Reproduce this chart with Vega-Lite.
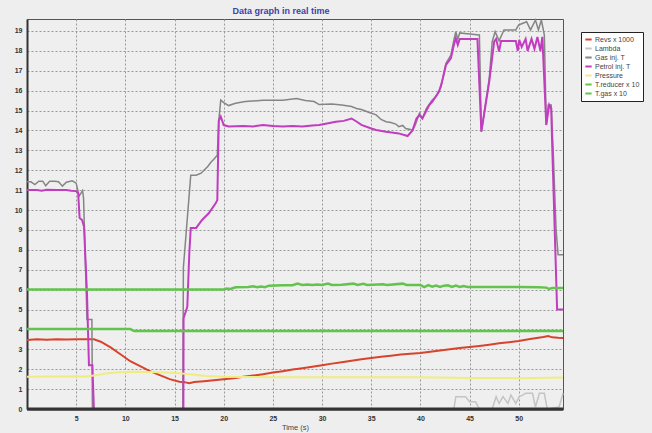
{
  "$schema": "https://vega.github.io/schema/vega-lite/v6.json",
  "width": 536,
  "height": 390,
  "autosize": {"type": "none"},
  "padding": {"left": 27, "top": 19, "right": 89, "bottom": 24},
  "background": "#eeeeee",
  "config": {
    "view": {"stroke": "#555555", "strokeWidth": 1, "fill": "#efefef"},
    "font": "Liberation Sans",
    "axis": {
      "domainColor": "#333333", "domainWidth": 2, "ticks": false,
      "gridColor": "#999999", "gridDash": [2, 2], "gridWidth": 1,
      "labelFont": "Liberation Sans", "labelFontSize": 7, "labelFontWeight": "bold", "labelColor": "#333333",
      "titleFont": "Liberation Sans", "titleFontSize": 7.5, "titleFontWeight": "normal", "titleColor": "#444444"
    }
  },
  "title": {"text": "Data graph in real time", "font": "Liberation Sans", "fontSize": 9, "fontWeight": "bold", "color": "#3f3fa8", "offset": 1, "dx": -14},
  "encoding": {
    "x": {"field": "t", "type": "quantitative", "title": "Time (s)",
      "scale": {"domain": [0, 54.5], "nice": false, "zero": false},
      "axis": {"values": [5, 10, 15, 20, 25, 30, 35, 40, 45, 50], "labelPadding": 5, "titlePadding": 2}},
    "y": {"field": "v", "type": "quantitative", "title": null,
      "scale": {"domain": [0, 19.6], "nice": false},
      "axis": {"values": [0, 1, 2, 3, 4, 5, 6, 7, 8, 9, 10, 11, 12, 13, 14, 15, 16, 17, 18, 19], "labelPadding": 5}}
  },
  "layer": [
    {
      "data": {"values": [
        {"t": 0, "v": 3.47}, {"t": 1, "v": 3.5}, {"t": 2, "v": 3.48}, {"t": 3, "v": 3.5}, {"t": 4, "v": 3.49}, {"t": 5, "v": 3.5}, {"t": 6, "v": 3.5}, {"t": 6.8, "v": 3.5},
        {"t": 7.5, "v": 3.38}, {"t": 8.5, "v": 3.1}, {"t": 9.5, "v": 2.75}, {"t": 10.5, "v": 2.4}, {"t": 11.5, "v": 2.15}, {"t": 12.5, "v": 1.9}, {"t": 13.5, "v": 1.7},
        {"t": 14.5, "v": 1.5}, {"t": 15.5, "v": 1.37}, {"t": 16, "v": 1.35}, {"t": 16.5, "v": 1.3}, {"t": 17, "v": 1.36}, {"t": 18, "v": 1.4}, {"t": 19, "v": 1.45},
        {"t": 20, "v": 1.5}, {"t": 21, "v": 1.55}, {"t": 22, "v": 1.62}, {"t": 23, "v": 1.68}, {"t": 24, "v": 1.75}, {"t": 25, "v": 1.83}, {"t": 26, "v": 1.9},
        {"t": 27, "v": 1.98}, {"t": 28, "v": 2.05}, {"t": 29, "v": 2.12}, {"t": 30, "v": 2.2}, {"t": 31, "v": 2.28}, {"t": 32, "v": 2.35}, {"t": 33, "v": 2.42},
        {"t": 34, "v": 2.5}, {"t": 35, "v": 2.56}, {"t": 36, "v": 2.62}, {"t": 37, "v": 2.68}, {"t": 38, "v": 2.74}, {"t": 39, "v": 2.78}, {"t": 40, "v": 2.81},
        {"t": 41, "v": 2.88}, {"t": 42, "v": 2.94}, {"t": 43, "v": 3.0}, {"t": 44, "v": 3.06}, {"t": 45, "v": 3.12}, {"t": 46, "v": 3.17}, {"t": 47, "v": 3.23},
        {"t": 48, "v": 3.3}, {"t": 49, "v": 3.36}, {"t": 50, "v": 3.42}, {"t": 51, "v": 3.5}, {"t": 52, "v": 3.58}, {"t": 52.5, "v": 3.62}, {"t": 53, "v": 3.67},
        {"t": 53.4, "v": 3.6}, {"t": 54, "v": 3.58}, {"t": 54.5, "v": 3.57}
      ]},
      "mark": {"type": "line", "strokeWidth": 2},
      "encoding": {"color": {"datum": "Revs x 1000", "type": "nominal",
        "scale": {"domain": ["Revs x 1000", "Lambda", "Gas inj. T", "Petrol inj. T", "Pressure", "T.reducer x 10", "T.gas x 10"],
                  "range": ["#d8432c", "#c4c4c4", "#858585", "#c23cc0", "#f0ec80", "#62c44c", "#62c44c"]},
        "legend": {"orient": "none", "legendX": 554, "legendY": 13, "title": null, "fillColor": "#ffffff", "strokeColor": "#222222",
                   "padding": 3, "labelFont": "Liberation Sans", "labelFontSize": 7, "labelColor": "#444444", "symbolType": "stroke",
                   "symbolSize": 40, "symbolStrokeWidth": 2, "rowPadding": 0, "labelOffset": 2}}}
    },
    {
      "data": {"values": [
        {"t": 0, "v": 0}, {"t": 43.4, "v": 0}, {"t": 43.6, "v": 0.62}, {"t": 44.6, "v": 0.62}, {"t": 45.0, "v": 0.37}, {"t": 45.6, "v": 0.37}, {"t": 46.0, "v": 0},
        {"t": 47.3, "v": 0}, {"t": 47.7, "v": 0.62}, {"t": 48.0, "v": 0.28}, {"t": 48.4, "v": 0.62}, {"t": 48.9, "v": 0.28}, {"t": 49.2, "v": 0.7}, {"t": 49.7, "v": 0.28},
        {"t": 50.05, "v": 0.62}, {"t": 50.4, "v": 0.7}, {"t": 50.7, "v": 0.79}, {"t": 51.4, "v": 0.79}, {"t": 51.7, "v": 0.1}, {"t": 52.1, "v": 0.79}, {"t": 52.6, "v": 0.79},
        {"t": 52.9, "v": 0}, {"t": 54.1, "v": 0.1}, {"t": 54.5, "v": 0.79}
      ]},
      "mark": {"type": "line", "strokeWidth": 1.5},
      "encoding": {"color": {"datum": "Lambda", "type": "nominal"}}
    },
    {
      "data": {"values": [
        {"t": 0, "v": 11.42}, {"t": 0.4, "v": 11.42}, {"t": 0.8, "v": 11.28}, {"t": 1.2, "v": 11.45}, {"t": 1.6, "v": 11.45}, {"t": 1.9, "v": 11.22}, {"t": 2.3, "v": 11.45},
        {"t": 2.8, "v": 11.45}, {"t": 3.2, "v": 11.42}, {"t": 3.6, "v": 11.2}, {"t": 4.0, "v": 11.4}, {"t": 4.6, "v": 11.47}, {"t": 5.0, "v": 11.35}, {"t": 5.3, "v": 10.7},
        {"t": 5.65, "v": 10.97}, {"t": 5.75, "v": 10.6}, {"t": 6.1, "v": 4.5}, {"t": 6.6, "v": 4.5}, {"t": 6.65, "v": 0}, {"t": 15.85, "v": 0}, {"t": 15.9, "v": 7.1},
        {"t": 16.65, "v": 11.75}, {"t": 17.2, "v": 11.75}, {"t": 17.7, "v": 11.85}, {"t": 18.0, "v": 12.0}, {"t": 18.4, "v": 12.2}, {"t": 18.7, "v": 12.4}, {"t": 19.0, "v": 12.55},
        {"t": 19.35, "v": 12.75}, {"t": 19.5, "v": 14.5}, {"t": 19.7, "v": 15.53}, {"t": 20.0, "v": 15.4}, {"t": 20.5, "v": 15.25}, {"t": 21.2, "v": 15.37}, {"t": 22.2, "v": 15.45},
        {"t": 24, "v": 15.52}, {"t": 26, "v": 15.52}, {"t": 27.4, "v": 15.6}, {"t": 28.3, "v": 15.5}, {"t": 29.2, "v": 15.45}, {"t": 29.7, "v": 15.3}, {"t": 31, "v": 15.33},
        {"t": 32, "v": 15.28}, {"t": 33, "v": 15.2}, {"t": 33.5, "v": 15.1}, {"t": 34, "v": 15.05}, {"t": 34.8, "v": 14.9}, {"t": 35.5, "v": 14.78}, {"t": 36, "v": 14.55},
        {"t": 36.5, "v": 14.44}, {"t": 37, "v": 14.4}, {"t": 37.5, "v": 14.32}, {"t": 37.8, "v": 14.19}, {"t": 38.2, "v": 14.25}, {"t": 38.5, "v": 14.1}, {"t": 39, "v": 14.05},
        {"t": 39.2, "v": 14.0}, {"t": 39.5, "v": 14.3}, {"t": 39.9, "v": 14.86}, {"t": 40.2, "v": 14.6}, {"t": 40.6, "v": 15.1}, {"t": 41.2, "v": 15.53}, {"t": 41.6, "v": 15.7},
        {"t": 42.1, "v": 16.2}, {"t": 42.6, "v": 17.37}, {"t": 43.1, "v": 17.79}, {"t": 43.4, "v": 18.54}, {"t": 43.6, "v": 18.96}, {"t": 43.8, "v": 18.6}, {"t": 44.0, "v": 18.9},
        {"t": 45.0, "v": 18.85}, {"t": 46.0, "v": 18.8}, {"t": 46.2, "v": 13.94}, {"t": 47.0, "v": 16.6}, {"t": 47.3, "v": 18.46}, {"t": 47.6, "v": 18.96}, {"t": 48.0, "v": 18.5},
        {"t": 48.5, "v": 19.05}, {"t": 49.7, "v": 19.05}, {"t": 50.0, "v": 19.3}, {"t": 50.8, "v": 19.46}, {"t": 51.2, "v": 19.05}, {"t": 51.7, "v": 19.55}, {"t": 52.0, "v": 19.05},
        {"t": 52.3, "v": 19.55}, {"t": 52.6, "v": 18.8}, {"t": 52.8, "v": 14.3}, {"t": 53.0, "v": 15.28}, {"t": 53.3, "v": 15.28}, {"t": 53.5, "v": 13.0}, {"t": 53.8, "v": 9.0},
        {"t": 54.0, "v": 7.75}, {"t": 54.5, "v": 7.75}
      ]},
      "mark": {"type": "line", "strokeWidth": 1.5},
      "encoding": {"color": {"datum": "Gas inj. T", "type": "nominal"}}
    },
    {
      "data": {"values": [
        {"t": 0, "v": 11.0}, {"t": 1, "v": 11.0}, {"t": 1.5, "v": 10.97}, {"t": 2, "v": 11.02}, {"t": 3, "v": 11.0}, {"t": 4, "v": 11.0}, {"t": 4.5, "v": 10.97},
        {"t": 5.0, "v": 10.95}, {"t": 5.2, "v": 10.85}, {"t": 5.35, "v": 9.6}, {"t": 5.6, "v": 9.5}, {"t": 5.8, "v": 9.16}, {"t": 6.1, "v": 5.8}, {"t": 6.3, "v": 2.2},
        {"t": 6.65, "v": 2.2}, {"t": 6.8, "v": 0}, {"t": 15.9, "v": 0}, {"t": 15.92, "v": 4.57}, {"t": 16.3, "v": 5.14}, {"t": 16.5, "v": 7.8}, {"t": 16.65, "v": 9.1},
        {"t": 17.2, "v": 9.1}, {"t": 17.8, "v": 9.5}, {"t": 18.5, "v": 9.85}, {"t": 19.2, "v": 10.35}, {"t": 19.35, "v": 10.5}, {"t": 19.5, "v": 14.5}, {"t": 19.7, "v": 14.7},
        {"t": 20.0, "v": 14.27}, {"t": 20.5, "v": 14.2}, {"t": 22, "v": 14.22}, {"t": 23, "v": 14.2}, {"t": 24, "v": 14.27}, {"t": 25, "v": 14.22}, {"t": 26, "v": 14.2},
        {"t": 27, "v": 14.22}, {"t": 28, "v": 14.2}, {"t": 29, "v": 14.25}, {"t": 29.7, "v": 14.27}, {"t": 30.5, "v": 14.35}, {"t": 31.4, "v": 14.44}, {"t": 32.2, "v": 14.48},
        {"t": 33, "v": 14.6}, {"t": 33.5, "v": 14.45}, {"t": 34, "v": 14.28}, {"t": 35, "v": 14.1}, {"t": 35.5, "v": 14.02}, {"t": 36.5, "v": 13.93}, {"t": 37.8, "v": 13.85},
        {"t": 38.7, "v": 13.72}, {"t": 39.2, "v": 14.0}, {"t": 39.6, "v": 14.6}, {"t": 39.9, "v": 14.77}, {"t": 40.2, "v": 14.6}, {"t": 40.9, "v": 15.28}, {"t": 41.2, "v": 15.44},
        {"t": 41.9, "v": 15.95}, {"t": 42.2, "v": 16.45}, {"t": 42.6, "v": 17.29}, {"t": 43.1, "v": 17.62}, {"t": 43.4, "v": 18.29}, {"t": 43.6, "v": 18.63}, {"t": 43.8, "v": 18.3},
        {"t": 44.0, "v": 18.6}, {"t": 45.8, "v": 18.6}, {"t": 46.2, "v": 13.94}, {"t": 47.0, "v": 16.45}, {"t": 47.5, "v": 18.46}, {"t": 47.7, "v": 18.6}, {"t": 48.0, "v": 17.96},
        {"t": 48.2, "v": 18.5}, {"t": 49.7, "v": 18.5}, {"t": 49.9, "v": 18.0}, {"t": 50.05, "v": 18.55}, {"t": 50.3, "v": 18.2}, {"t": 50.7, "v": 18.6}, {"t": 50.9, "v": 18.0},
        {"t": 51.3, "v": 18.6}, {"t": 51.6, "v": 18.1}, {"t": 51.9, "v": 18.7}, {"t": 52.2, "v": 18.0}, {"t": 52.4, "v": 18.7}, {"t": 52.8, "v": 14.27}, {"t": 53.1, "v": 15.28},
        {"t": 53.3, "v": 15.1}, {"t": 53.4, "v": 13.27}, {"t": 53.9, "v": 5.0}, {"t": 54.5, "v": 5.0}
      ]},
      "mark": {"type": "line", "strokeWidth": 2},
      "encoding": {"color": {"datum": "Petrol inj. T", "type": "nominal"}}
    },
    {
      "data": {"values": [
        {"t": 0, "v": 1.62}, {"t": 3, "v": 1.63}, {"t": 6, "v": 1.63}, {"t": 7, "v": 1.7}, {"t": 8, "v": 1.78}, {"t": 9, "v": 1.83}, {"t": 10.4, "v": 1.87},
        {"t": 12.7, "v": 1.86}, {"t": 14, "v": 1.83}, {"t": 15.5, "v": 1.8}, {"t": 17, "v": 1.72}, {"t": 18.2, "v": 1.66}, {"t": 20, "v": 1.62}, {"t": 22, "v": 1.61},
        {"t": 25, "v": 1.6}, {"t": 30, "v": 1.6}, {"t": 35, "v": 1.6}, {"t": 40, "v": 1.6}, {"t": 45, "v": 1.56}, {"t": 50, "v": 1.55}, {"t": 54.5, "v": 1.58}
      ]},
      "mark": {"type": "line", "strokeWidth": 2},
      "encoding": {"color": {"datum": "Pressure", "type": "nominal"}}
    },
    {
      "data": {"values": [
        {"t": 0, "v": 6.0}, {"t": 10, "v": 6.0}, {"t": 20, "v": 6.0}, {"t": 20.3, "v": 6.06}, {"t": 20.7, "v": 6.03}, {"t": 21.2, "v": 6.12}, {"t": 22.5, "v": 6.13},
        {"t": 23, "v": 6.17}, {"t": 23.4, "v": 6.12}, {"t": 23.8, "v": 6.16}, {"t": 24.2, "v": 6.12}, {"t": 24.6, "v": 6.2}, {"t": 26, "v": 6.22}, {"t": 27, "v": 6.22},
        {"t": 27.5, "v": 6.3}, {"t": 28, "v": 6.23}, {"t": 28.5, "v": 6.26}, {"t": 29, "v": 6.23}, {"t": 29.5, "v": 6.26}, {"t": 30, "v": 6.23}, {"t": 30.6, "v": 6.3},
        {"t": 31, "v": 6.23}, {"t": 32, "v": 6.25}, {"t": 33.2, "v": 6.3}, {"t": 33.6, "v": 6.23}, {"t": 34.2, "v": 6.29}, {"t": 34.6, "v": 6.23}, {"t": 36.2, "v": 6.27},
        {"t": 36.6, "v": 6.23}, {"t": 38.2, "v": 6.3}, {"t": 38.6, "v": 6.23}, {"t": 40, "v": 6.23}, {"t": 40.4, "v": 6.13}, {"t": 40.8, "v": 6.23}, {"t": 41.2, "v": 6.15},
        {"t": 41.6, "v": 6.2}, {"t": 42, "v": 6.13}, {"t": 42.4, "v": 6.2}, {"t": 42.8, "v": 6.22}, {"t": 43.2, "v": 6.14}, {"t": 43.6, "v": 6.2}, {"t": 44, "v": 6.13},
        {"t": 44.4, "v": 6.18}, {"t": 44.8, "v": 6.13}, {"t": 46, "v": 6.13}, {"t": 50, "v": 6.13}, {"t": 52, "v": 6.12}, {"t": 52.8, "v": 6.1}, {"t": 53.1, "v": 6.03},
        {"t": 53.4, "v": 6.08}, {"t": 54.5, "v": 6.08}
      ]},
      "mark": {"type": "line", "strokeWidth": 2.5},
      "encoding": {"color": {"datum": "T.reducer x 10", "type": "nominal"}}
    },
    {
      "data": {"values": [
        {"t": 0, "v": 4.02}, {"t": 10.5, "v": 4.02}, {"t": 10.9, "v": 3.92}, {"t": 54.5, "v": 3.92}
      ]},
      "mark": {"type": "line", "strokeWidth": 2.5},
      "encoding": {"color": {"datum": "T.gas x 10", "type": "nominal"}}
    },
    {
      "data": {"values": [{"t": 0, "v": 0}]},
      "mark": {"type": "rule", "color": "#333333", "strokeWidth": 3},
      "encoding": {"x2": {"datum": 54.5}}
    }
  ]
}
